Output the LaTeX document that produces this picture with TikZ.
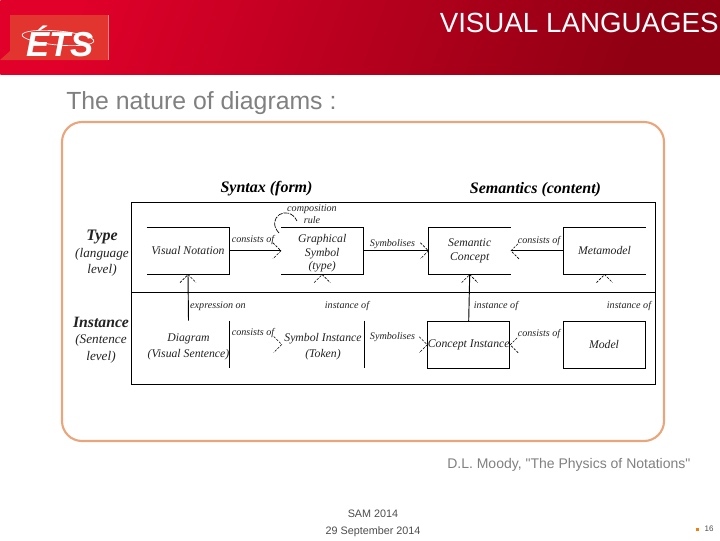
\documentclass[tikz,border=0pt]{standalone}
\usepackage{fontspec}
\setmainfont{Liberation Sans}
\newfontfamily\paperfont{Liberation Serif}
\newfontfamily\sourcefont{Liberation Sans}
\usepackage{tikz}
\usetikzlibrary{positioning}
\definecolor{etsred}{HTML}{E0002A}
\definecolor{etsdark}{HTML}{8E0012}
\definecolor{etslogo}{HTML}{E2352F}
\definecolor{framecol}{HTML}{E9A67C}
\definecolor{titlegray}{HTML}{808080}
\definecolor{inkcol}{HTML}{222222}
\tikzstyle{box} = [minimum width=61.5pt, minimum height=35.25pt, inner sep=0pt, align=center, text=inkcol, font=\paperfont\itshape\fontsize{8.8}{10.3}\selectfont]
\tikzstyle{edge} = [line width=0.7pt]
\tikzstyle{arrow} = [line width=0.7pt]
\tikzstyle{lbl} = [inner sep=0pt, text=inkcol, font=\paperfont\itshape\fontsize{7.6}{8.6}\selectfont]
\tikzstyle{rowhead} = [inner sep=0pt, align=center, text=inkcol, font=\paperfont\itshape\fontsize{9.9}{12.4}\selectfont]
\tikzstyle{colhead} = [inner sep=0pt, font=\paperfont\bfseries\itshape\fontsize{12}{14}\selectfont]
\tikzset{barb/.pic={\draw [line width=0.45pt, dash pattern=on 1.8pt off 1pt] (-8,-8) -- (0,0) -- (-8,8);}}

\begin{document}
\begin{tikzpicture}[x=0.75pt, y=-0.75pt]
    \useasboundingbox (0,0) rectangle (720,540);

    % banner
    \node (banner) [anchor=north west, minimum width=540pt, minimum height=56pt, inner sep=0pt, left color=etsred, middle color=etsred!82!etsdark, right color=etsdark, shading angle=70] at (0,0) {};
    \fill [etslogo] (0,60) -- (10,51) -- (10,15) -- (108,15) -- (108,60) -- cycle;
    \draw [etslogo!60!white, line width=0.4pt] (108,15) -- (108,60);
    \node (logo) [white, inner sep=0pt, font=\bfseries\itshape\fontsize{26}{26}\selectfont] at (60,41) {ÉTS};
    \draw [white, line width=0.5pt, rotate around={-5:(58,38)}] (58,38) ellipse (36 and 7);
    \node (title) [white, anchor=east, inner sep=0pt, font=\fontsize{20.8}{22}\selectfont] at (719,23) {VISUAL LANGUAGES};
    \node (subtitle) [titlegray, anchor=west, inner sep=0pt, font=\fontsize{18.6}{20}\selectfont] at (66,103) {The nature of diagrams :};

    % frame and grid
    \draw [framecol, line width=1.6pt, rounded corners=15pt] (62,122) rectangle (664,441);
    \node (grid) [draw, line width=0.7pt, minimum width=393pt, minimum height=136.5pt, inner sep=0pt] at (393.7,293.3) {};
    \draw [edge] (grid.west |- 0,292.3) -- (grid.east |- 0,292.3);

    \node (syntax) [colhead] at (266.5,189) {Syntax (form)};
    \node (semantics) [colhead] at (535.5,190) {Semantics (content)};
    \node (type) [rowhead] at (102,253.5) {{\bfseries\fontsize{12}{12.4}\selectfont Type}\\(language\\level)};
    \node (instance) [rowhead] at (101,340) {{\bfseries\fontsize{11.8}{12.4}\selectfont Instance}\\(Sentence\\level)};

    % type row
    \node (notation) [box] at (188,250.8) {Visual Notation};
    \draw [edge] (notation.north west) -- (notation.north east) -- (notation.south east) -- (notation.south west);
    \node (symbol) [box] at (322.2,250.8) {\rule{0pt}{10pt}Graphical\\Symbol\\(type)};
    \draw [edge] (symbol.north west) -- (symbol.north east) -- (symbol.south east) -- (symbol.south west);
    \node (concept) [box] at (469.7,250.8) {Semantic\\Concept};
    \draw [edge] (concept.north east) -- (concept.north west) -- (concept.south west) -- (concept.south east);
    \node (metamodel) [box] at (604.5,250.8) {Metamodel};
    \draw [edge] (metamodel.north east) -- (metamodel.north west) -- (metamodel.south west) -- (metamodel.south east);

    % instance row
    \node (diagram) [box] at (188.5,344.5) {\rule{0pt}{9pt}Diagram\\[1.8pt](Visual Sentence)};
    \draw [edge] (diagram.north east) -- (diagram.south east);
    \node (token) [box] at (323,344.5) {\rule{0pt}{9pt}Symbol Instance\\[1.8pt](Token)};
    \draw [edge] (token.north east) -- (token.south east);
    \node (cinstance) [box, draw, line width=0.7pt] at (468.7,344.8) {Concept Instance};
    \node (model) [box, draw, line width=0.7pt] at (604,344.8) {Model};

    % connectors
    \draw [arrow] (notation) -- (symbol);
    \pic at (symbol.west) {barb};
    \draw [arrow] (symbol) -- (concept);
    \pic at (concept.west) {barb};
    \draw [arrow] (metamodel) -- (concept.east);
    \pic [rotate=180] at (concept.east) {barb};
    \draw [arrow] (diagram.north) -- (notation.south);
    \pic [rotate=90] at (notation.south) {barb};
    \draw [arrow] (cinstance.north) -- (concept.south);
    \pic [rotate=90] at (concept.south) {barb};
    \pic at (token.west) {barb};
    \pic at (cinstance.west) {barb};
    \pic [rotate=180] at (cinstance.east) {barb};
    \pic [rotate=90] at (symbol.south) {barb};
    \pic [rotate=90] at (metamodel.south) {barb};

    % composition rule
    \coordinate (loopa) at (279,233);
    \coordinate (loopb) at (297,221);
    \draw [line width=0.5pt, dash pattern=on 4pt off 0.8pt] (loopa) .. controls (265,218) and (288,203) .. (loopb);
    \node (comprule) [lbl, align=center] at (312,214) {composition\\rule};

    % labels
    \node (l1) [lbl] at (253,240.5) {consists of};
    \node (l2) [lbl] at (392.5,244.5) {Symbolises};
    \node (l3) [lbl] at (539,241.5) {consists of};
    \node (l4) [lbl] at (218,306) {expression on};
    \node (l5) [lbl] at (347,306) {instance of};
    \node (l6) [lbl] at (496,306) {instance of};
    \node (l7) [lbl] at (629,306) {instance of};
    \node (l8) [lbl] at (253,333) {consists of};
    \node (l9) [lbl] at (392.5,337) {Symbolises};
    \node (l10) [lbl] at (539,334) {consists of};

    % footer
    \node (source) [titlegray, anchor=west, inner sep=0pt, font=\sourcefont\fontsize{10.5}{12}\selectfont] at (447,465) {D.L. Moody, "The Physics of Notations"};
    \node (venue) [black!70, inner sep=0pt, font=\fontsize{8.1}{10}\selectfont] at (373,514) {SAM 2014};
    \node (date) [black!70, below=6.5pt of venue, inner sep=0pt, font=\fontsize{8.1}{10}\selectfont] {29 September 2014};
    \fill [orange!75!brown] (695.5,527.5) rectangle (699,531);
    \node (page) [black!70, inner sep=0pt, font=\fontsize{6}{7}\selectfont] at (709,528.5) {16};

\end{tikzpicture}
\end{document}
